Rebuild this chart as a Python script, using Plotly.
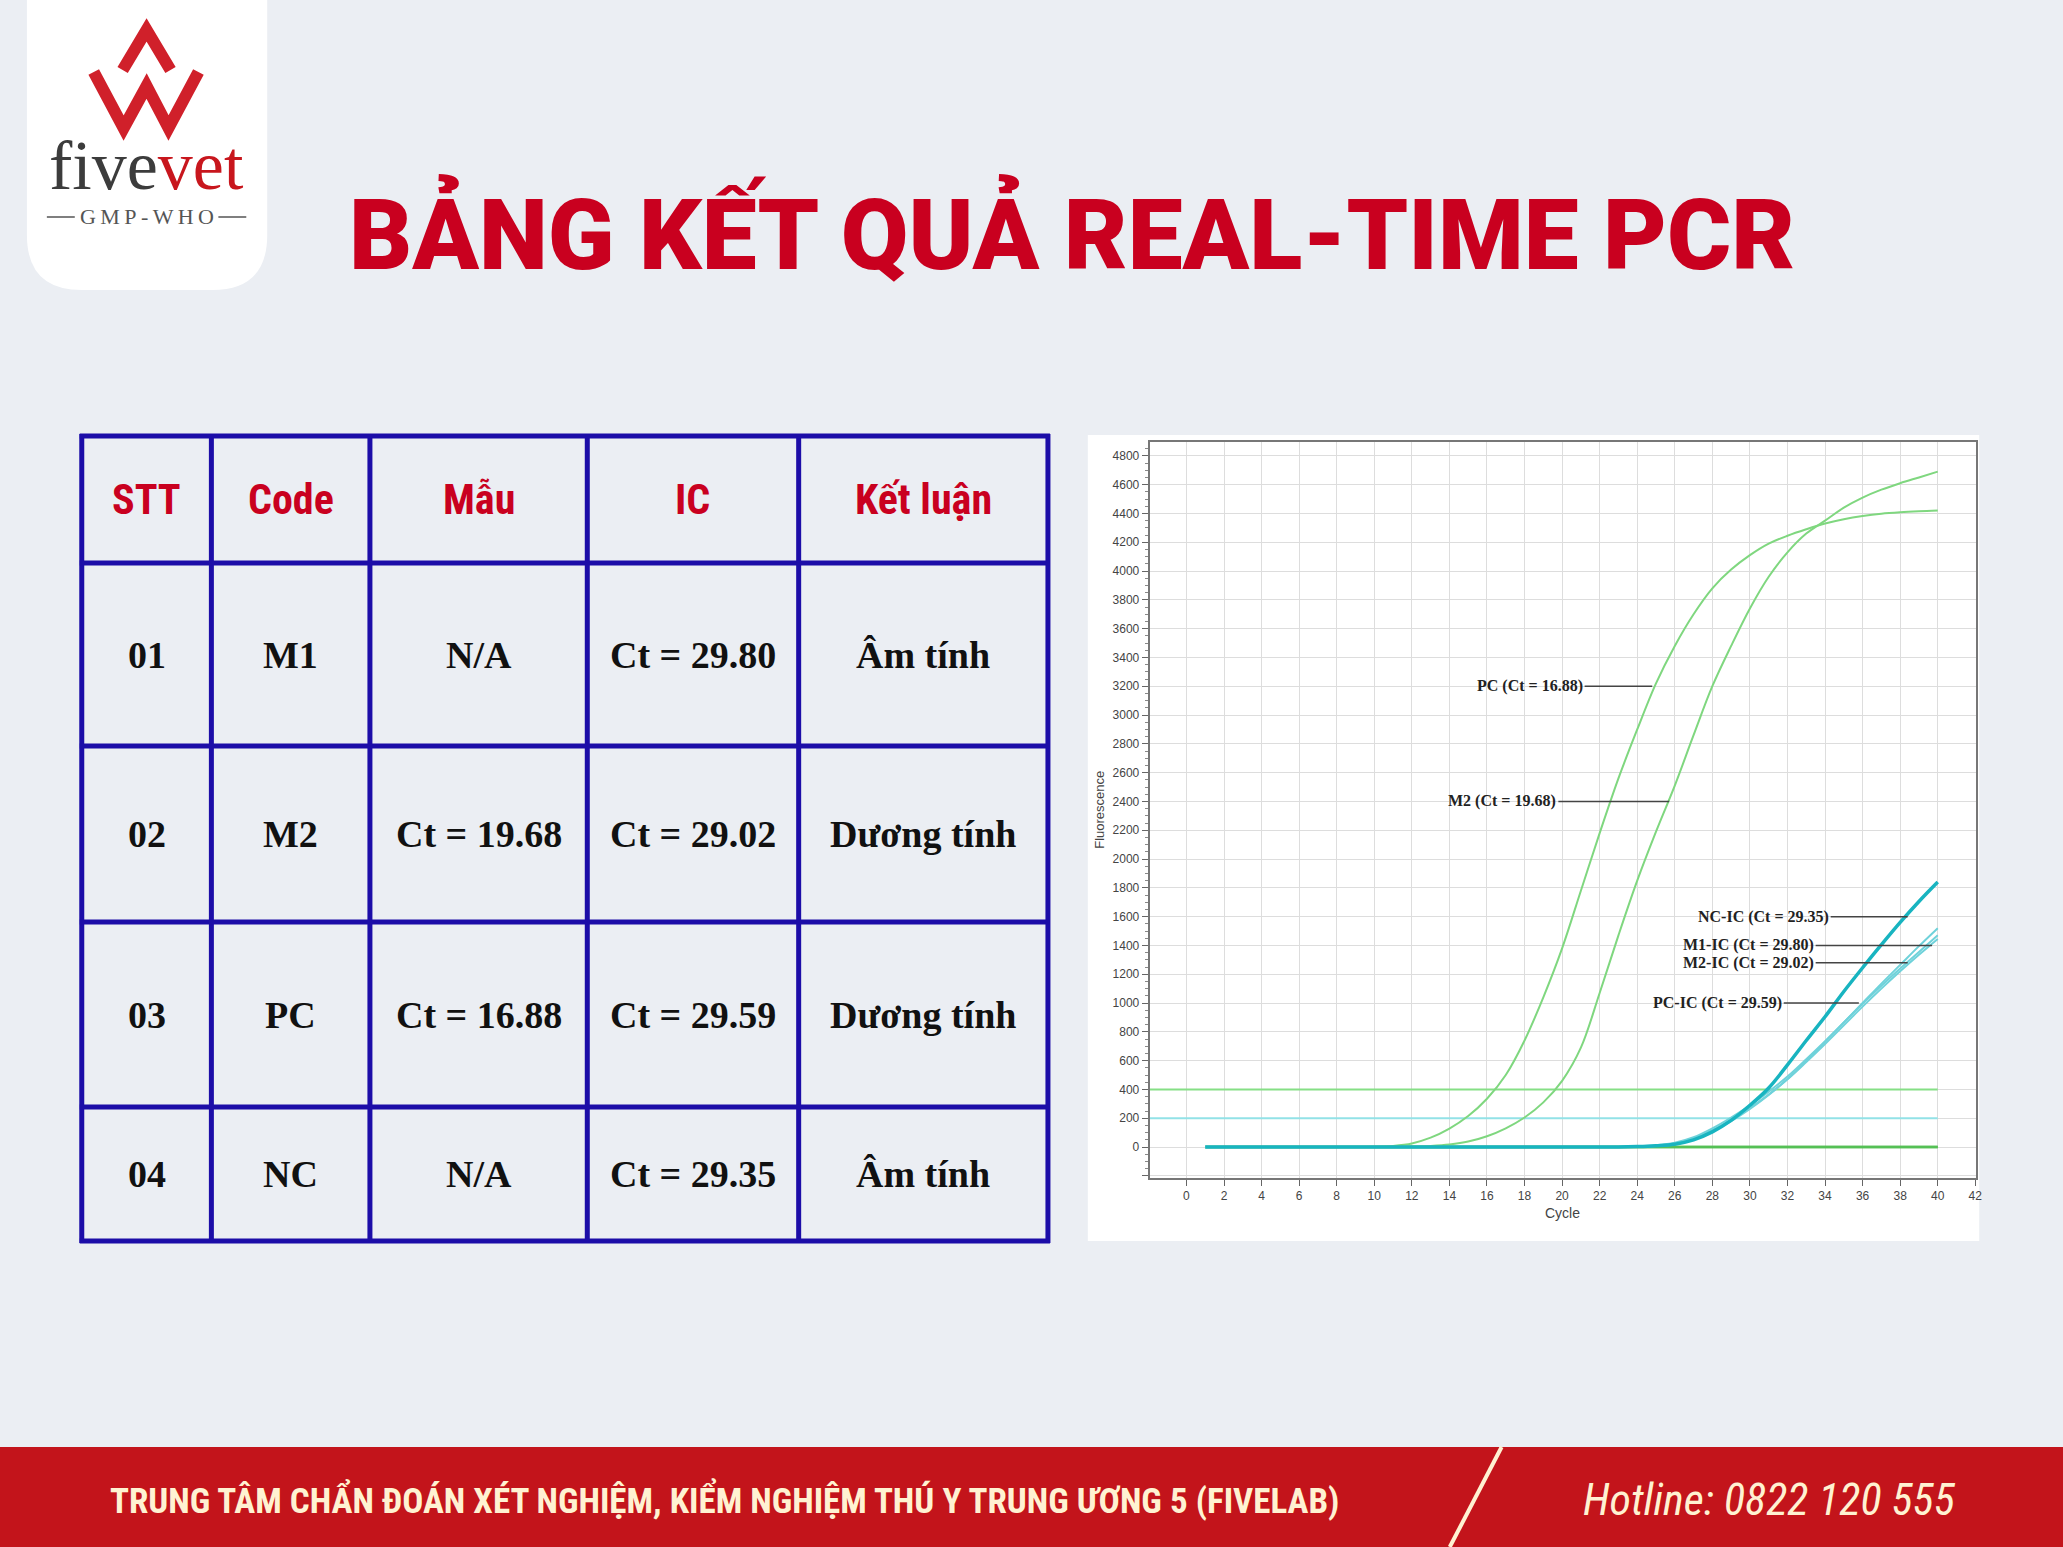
import plotly.graph_objects as go

# canvas size (px) used to turn pixel positions into paper fractions
W, H = 2063, 1547


def px(x):
    return x / W


def py(y):
    return 1 - y / H


# ---- data -------------------------------------------------------------
CYCLES = list(range(1, 41))

PC = [0, 0, 0, 0, 0, 0, 0, 0, 0, 2, 8, 25, 65, 128, 215, 335, 500, 740, 1040, 1380,
      1780, 2180, 2560, 2900, 3220, 3480, 3700, 3880, 4010, 4110, 4190, 4245, 4290,
      4330, 4360, 4382, 4398, 4408, 4415, 4420]
M2 = [0, 0, 0, 0, 0, 0, 0, 0, 0, 0, 0, 3, 8, 18, 38, 75, 130, 205, 310, 460,
      690, 1070, 1470, 1850, 2190, 2510, 2860, 3200, 3480, 3740, 3960, 4130, 4260,
      4350, 4440, 4510, 4565, 4610, 4650, 4690]
NC_IC = [0, 0, 0, 0, 0, 0, 0, 0, 0, 0, 0, 0, 0, 0, 0, 0, 0, 0, 0, 0,
         0, 0, 0, 3, 9, 20, 50, 105, 185, 290, 410, 570, 740, 905, 1080, 1245, 1405,
         1560, 1705, 1840]
M1_IC = [0, 0, 0, 0, 0, 0, 0, 0, 0, 0, 0, 0, 0, 0, 0, 0, 0, 0, 0, 0,
         0, 0, 0, 2, 7, 20, 50, 108, 180, 265, 362, 472, 598, 730, 865, 1000, 1135,
         1265, 1395, 1520]
M2_IC = [0, 0, 0, 0, 0, 0, 0, 0, 0, 0, 0, 0, 0, 0, 0, 0, 0, 0, 0, 0,
         0, 0, 0, 4, 12, 30, 68, 130, 205, 290, 385, 490, 610, 735, 865, 995, 1120,
         1240, 1355, 1470]
PC_IC = [0, 0, 0, 0, 0, 0, 0, 0, 0, 0, 0, 0, 0, 0, 0, 0, 0, 0, 0, 0,
         0, 0, 0, 3, 9, 24, 58, 118, 190, 272, 365, 470, 590, 715, 845, 975, 1100,
         1220, 1335, 1445]
FLAT = [0] * 40  # M1 and NC target channel, no amplification

THRESHOLD_TARGET = 400
THRESHOLD_IC = 200

# chart labels: text, y level, label end (cycle), curve point (cycle)
LABEL_TEXT = ["PC (Ct = 16.88)", "M2 (Ct = 19.68)", "NC-IC (Ct = 29.35)",
              "M1-IC (Ct = 29.80)", "M2-IC (Ct = 29.02)", "PC-IC (Ct = 29.59)"]
LABEL_Y = [3200, 2400, 1600, 1400, 1280, 1000]
LABEL_END = [21.2, 19.8, 34.3, 33.5, 33.5, 31.8]
LABEL_HIT = [24.8, 25.7, 38.4, 39.7, 38.4, 35.8]

X_TICKS = [-2, 0, 2, 4, 6, 8, 10, 12, 14, 16, 18, 20, 22, 24, 26, 28, 30, 32, 34, 36, 38, 40, 42]
X_TICK_TEXT = [""] + [str(v) for v in X_TICKS[1:]]
Y_TICKS = [-200, 0, 200, 400, 600, 800, 1000, 1200, 1400, 1600, 1800, 2000, 2200, 2400,
           2600, 2800, 3000, 3200, 3400, 3600, 3800, 4000, 4200, 4400, 4600, 4800]
Y_TICK_TEXT = [""] + [str(v) for v in Y_TICKS[1:]]

# table
HEADERS = ["STT", "Code", "Mẫu", "IC", "Kết luận"]
STT = ["01", "02", "03", "04"]
CODES = ["M1", "M2", "PC", "NC"]
SAMPLE_CT = [None, 19.68, 16.88, None]
IC_CT = [29.80, 29.02, 29.59, 29.35]
RESULTS = ["Âm tính", "Dương tính", "Dương tính", "Âm tính"]

TITLE = "BẢNG KẾT QUẢ REAL-TIME PCR"
FOOTER_LEFT = "TRUNG TÂM CHẨN ĐOÁN XÉT NGHIỆM, KIỂM NGHIỆM THÚ Y TRUNG ƯƠNG 5 (FIVELAB)"
FOOTER_RIGHT = "Hotline: 0822 120 555"

# ---- colours / layout constants ---------------------------------------
BG = "#EBEEF3"
RED = "#C9001F"
BLUE = "#1C0DA8"
GREEN = "#7FD77F"
CYAN_THIN = "#6FD2DA"
CYAN_BOLD = "#18B4C0"
FOOTER_RED = "#C3141B"
CREAM = "#FFF2D2"
NARROW = "Liberation Sans Narrow, Roboto Condensed, sans-serif"

COL_EDGES = [82, 212, 371, 589, 801, 1051]
ROW_EDGES = [436, 563, 746, 922, 1107, 1241]

X_RANGE = [-1.96, 42.05]
Y_RANGE = [-215, 4896]

fig = go.Figure()

# threshold lines
fig.add_trace(go.Scatter(x=[X_RANGE[0], 40], y=[THRESHOLD_TARGET] * 2, mode="lines",
                         line=dict(color="#86DF86", width=2)))
fig.add_trace(go.Scatter(x=[X_RANGE[0], 40], y=[THRESHOLD_IC] * 2, mode="lines",
                         line=dict(color="#92E2E7", width=2)))

# flat target curves
for _ in range(2):
    fig.add_trace(go.Scatter(x=CYCLES, y=FLAT, mode="lines",
                             line=dict(color="#55C055", width=2.5)))

for series in (PC, M2):
    fig.add_trace(go.Scatter(x=CYCLES, y=series, mode="lines", line_shape="spline",
                             line=dict(color=GREEN, width=2)))

for series in (M1_IC, M2_IC, PC_IC):
    fig.add_trace(go.Scatter(x=CYCLES, y=series, mode="lines", line_shape="spline",
                             line=dict(color=CYAN_THIN, width=2)))

fig.add_trace(go.Scatter(x=CYCLES, y=NC_IC, mode="lines", line_shape="spline",
                         line=dict(color=CYAN_BOLD, width=3.5)))

fig.update_traces(hoverinfo="skip", showlegend=False)

shapes = []
annotations = []


def note(x, y, text, font, **kw):
    # centred text at a pixel position of the canvas
    d = dict(x=px(x), y=py(y), xref="paper", yref="paper", showarrow=False,
             xanchor="center", yanchor="middle", text=text, font=font)
    d.update(kw)
    annotations.append(d)


# logo card with rounded bottom corners
x0, x1, yt, yb, r = px(27), px(268), py(0), py(290), 55
rx, ry = r / W, r / H
shapes.append(dict(
    type="path", xref="paper", yref="paper", layer="below",
    path=(f"M {x0},{yt} L {x1},{yt} L {x1},{yb + ry} Q {x1},{yb} {x1 - rx},{yb} "
          f"L {x0 + rx},{yb} Q {x0},{yb} {x0},{yb + ry} Z"),
    fillcolor="white", line=dict(width=0)))

# logo mark (stylised W with peak)
for pts in ([(94, 72), (124, 128), (147, 86), (169, 128), (199, 72)],
            [(123, 70), (147, 30), (171, 70)]):
    path = "M " + " L ".join(f"{px(a)},{py(b)}" for a, b in pts)
    shapes.append(dict(type="path", xref="paper", yref="paper", path=path,
                       line=dict(color="#D0202A", width=12)))

note(147, 166, "five<span style='color:#C8161D'>vet</span>",
     dict(family="Liberation Serif", size=70, color="#3C3C3C"))
note(147, 217, "G\u2009M\u2009P\u2009-\u2009W\u2009H\u2009O",
     dict(family="Liberation Serif", size=22, color="#555555"))
for a, b in ((47, 75), (219, 247)):
    shapes.append(dict(type="line", xref="paper", yref="paper",
                       x0=px(a), x1=px(b), y0=py(217), y1=py(217),
                       line=dict(color="#555555", width=1.5)))

# title
note(1075, 233, TITLE, dict(family="Roboto", size=98, color=RED, weight=900))

# ---- table ------------------------------------------------------------
for xe in COL_EDGES:
    shapes.append(dict(type="line", xref="paper", yref="paper",
                       x0=px(xe), x1=px(xe), y0=py(ROW_EDGES[0] - 2), y1=py(ROW_EDGES[-1] + 2),
                       line=dict(color=BLUE, width=5)))
for ye in ROW_EDGES:
    shapes.append(dict(type="line", xref="paper", yref="paper",
                       x0=px(COL_EDGES[0] - 2), x1=px(COL_EDGES[-1] + 2), y0=py(ye), y1=py(ye),
                       line=dict(color=BLUE, width=5)))

col_mid = [(COL_EDGES[i] + COL_EDGES[i + 1]) / 2 for i in range(5)]
row_mid = [(ROW_EDGES[i] + ROW_EDGES[i + 1]) / 2 for i in range(5)]

for c, head in enumerate(HEADERS):
    note(col_mid[c], row_mid[0], f"<b>{head}</b>", dict(family=NARROW, size=42, color=RED))

for r_i in range(4):
    sample = "N/A" if SAMPLE_CT[r_i] is None else f"Ct = {SAMPLE_CT[r_i]:.2f}"
    row = [STT[r_i], CODES[r_i], sample, f"Ct = {IC_CT[r_i]:.2f}", RESULTS[r_i]]
    for c, val in enumerate(row):
        note(col_mid[c], row_mid[r_i + 1], f"<b>{val}</b>",
             dict(family="Liberation Serif", size=38, color="#111111"))

# ---- chart panel ------------------------------------------------------
shapes.append(dict(type="rect", xref="paper", yref="paper", layer="below",
                   x0=px(1091), x1=px(1985), y0=py(1241), y1=py(435),
                   fillcolor="white", line=dict(width=0)))

for text, yv, xe, xh in zip(LABEL_TEXT, LABEL_Y, LABEL_END, LABEL_HIT):
    annotations.append(dict(
        x=xe, y=yv, xref="x", yref="y", xanchor="right", yanchor="middle", showarrow=False,
        text=f"<b>{text}</b>", font=dict(family="Liberation Serif", size=16, color="#222222")))
    shapes.append(dict(type="line", xref="x", yref="y", x0=xe, x1=xh, y0=yv, y1=yv,
                       line=dict(color="#444444", width=1.5)))

note(1102, 810, "Fluorescence", dict(family="Liberation Sans", size=13, color="#444444"),
     textangle=-90)
note(1567, 1213, "Cycle", dict(family="Liberation Sans", size=14, color="#444444"))

# ---- footer -----------------------------------------------------------
shapes.append(dict(type="rect", xref="paper", yref="paper", layer="below",
                   x0=-0.01, x1=1.01, y0=-0.01, y1=py(1447), fillcolor=FOOTER_RED,
                   line=dict(width=0)))
shapes.append(dict(type="line", xref="paper", yref="paper",
                   x0=px(1506), y0=py(1447), x1=px(1454), y1=py(1547),
                   line=dict(color=CREAM, width=4)))
note(727, 1500, f"<b>{FOOTER_LEFT}</b>", dict(family=NARROW, size=35, color=CREAM))
note(1775, 1500, f"<i>{FOOTER_RIGHT}</i>", dict(family=NARROW, size=44, color=CREAM))

axis_font = dict(family="Liberation Sans", size=12, color="#444444")
fig.update_layout(
    width=W, height=H, margin=dict(l=0, r=0, t=0, b=0),
    paper_bgcolor=BG, plot_bgcolor="white",
    shapes=shapes, annotations=annotations,
    xaxis=dict(domain=[px(1153), px(1982)], range=X_RANGE, tickmode="array",
               tickvals=X_TICKS, ticktext=X_TICK_TEXT, ticks="outside", ticklen=6,
               tickcolor="#666666", tickfont=axis_font, showgrid=True, gridcolor="#DDDDDD",
               gridwidth=1, zeroline=False, showline=True, linecolor="#777777",
               linewidth=2, mirror=True),
    yaxis=dict(domain=[py(1178), py(442)], range=Y_RANGE, tickmode="array",
               tickvals=Y_TICKS, ticktext=Y_TICK_TEXT, ticks="outside", ticklen=6,
               tickcolor="#666666", tickfont=axis_font, showgrid=True, gridcolor="#DDDDDD",
               gridwidth=1, zeroline=False, showline=True, linecolor="#777777",
               linewidth=2, mirror=True,
               minor=dict(tick0=0, dtick=50, ticks="outside", ticklen=3,
                          tickcolor="#888888", showgrid=False)),
)

fig.write_html("out.html", config={"displayModeBar": False},
               post_script="document.documentElement.style.overflow='hidden';"
                           "document.body.style.margin='0';"
                           "document.body.style.overflow='hidden';"
                           f"document.body.style.background='{BG}';")
